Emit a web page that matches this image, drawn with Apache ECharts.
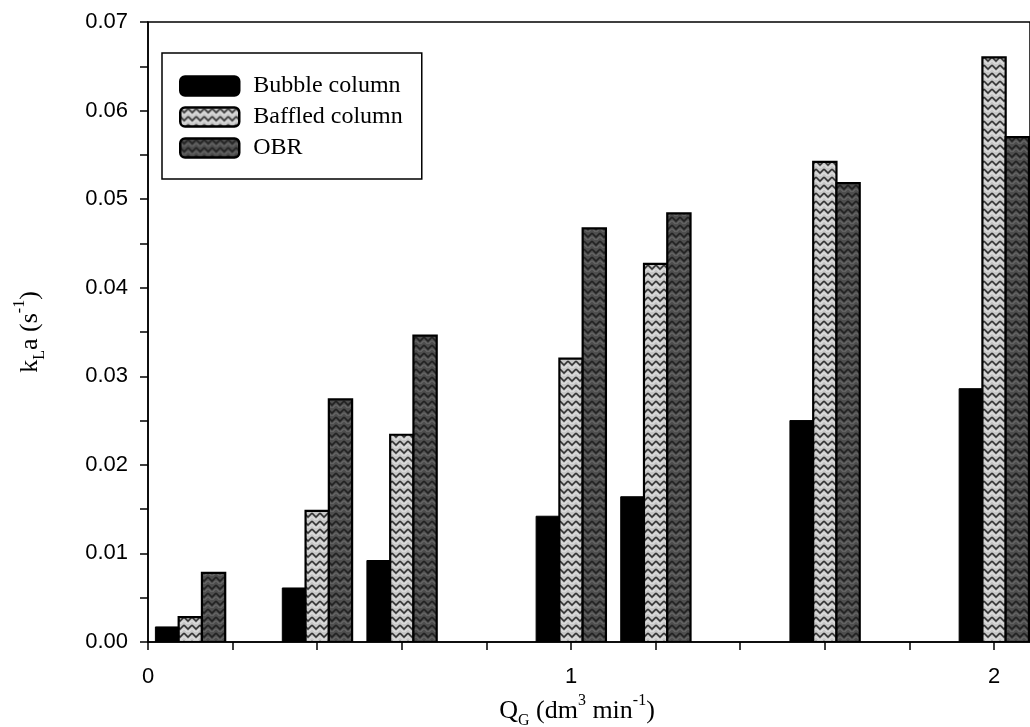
<!DOCTYPE html>
<html>
<head>
<meta charset="utf-8">
<title>kLa vs gas flow rate</title>
<script src="https://cdn.jsdelivr.net/npm/echarts@6/dist/echarts.min.js"></script>
<style>
  html, body { margin: 0; padding: 0; background: #fff; }
  #chart { width: 1030px; height: 727px; }
</style>
</head>
<body>
<div id="chart"></div>
<script>
// Gas flow rates (dm3/min) and measured kLa (1/s) for each reactor
const flowRates = [0.1, 0.4, 0.6, 1.0, 1.2, 1.6, 2.0];
const bubbleColumn = [0.0017, 0.0061, 0.0092, 0.0142, 0.0164, 0.0250, 0.0286];
const baffledColumn = [0.0028, 0.0148, 0.0234, 0.0320, 0.0427, 0.0542, 0.0660];
const obr = [0.0078, 0.0274, 0.0346, 0.0467, 0.0484, 0.0518, 0.0570];
const seriesNames = ['Bubble column', 'Baffled column', 'OBR'];
const xLabels = { 0: '0', 1: '1', 2: '2' };

const BAR_W = 0.055; // bar width in axis units

// chevron texture tile
function chevronPattern(bg, line, light) {
  const c = document.createElement('canvas');
  c.width = 8; c.height = 8;
  const g = c.getContext('2d');
  g.fillStyle = bg;
  g.fillRect(0, 0, 8, 8);
  g.lineWidth = 1.6;
  g.strokeStyle = line;
  g.beginPath();
  g.moveTo(0, 1); g.lineTo(4, 5); g.lineTo(8, 1);
  g.stroke();
  g.strokeStyle = light;
  g.lineWidth = 1;
  g.beginPath();
  g.moveTo(0, 4.5); g.lineTo(4, 8.5); g.lineTo(8, 4.5);
  g.stroke();
  return { image: c, repeat: 'repeat' };
}

const fills = [
  '#000000',
  chevronPattern('#c8c8c8', '#333333', '#ececec'),
  chevronPattern('#4e4e4e', '#222222', '#777777')
];
const borders = [1, 2.2, 2.2];
const valueSets = [bubbleColumn, baffledColumn, obr];

function makeSeries(idx) {
  const offset = (idx - 1) * BAR_W;
  return {
    name: seriesNames[idx],
    type: 'custom',
    clip: true,
    itemStyle: { color: fills[idx], borderColor: '#000', borderWidth: borders[idx] },
    data: flowRates.map((q, i) => [q, valueSets[idx][i]]),
    renderItem: function (params, api) {
      const xc = api.value(0) + offset;
      const top = api.coord([xc, api.value(1)]);
      const base = api.coord([xc, 0]);
      const w = api.size([BAR_W, 0])[0];
      return {
        type: 'rect',
        shape: { x: top[0] - w / 2, y: top[1], width: w, height: base[1] - top[1] },
        style: { fill: fills[idx], stroke: '#000', lineWidth: borders[idx] }
      };
    }
  };
}

const chart = echarts.init(document.getElementById('chart'), null, { renderer: 'canvas' });

const serif = 'Liberation Serif';
const sans = 'Liberation Sans';
const nameRich = {
  b: { fontFamily: serif, fontSize: 26, color: '#000', lineHeight: 36 },
  sub: { fontFamily: serif, fontSize: 16, color: '#000', lineHeight: 16, verticalAlign: 'bottom' },
  sup: { fontFamily: serif, fontSize: 16, color: '#000', lineHeight: 16, verticalAlign: 'top' }
};

chart.setOption({
  animation: false,
  backgroundColor: '#fff',
  grid: {
    left: 148, top: 22, right: 0, height: 620,
    outerBoundsMode: 'none',
    containLabel: false,
    show: true, borderColor: '#000', borderWidth: 1.5, backgroundColor: 'transparent'
  },
  legend: {
    left: 162, top: 53,
    orient: 'vertical',
    backgroundColor: '#fff',
    borderColor: '#000',
    borderWidth: 1.5,
    borderRadius: 0,
    padding: [21, 19, 19, 17],
    itemWidth: 59,
    itemHeight: 19,
    itemGap: 7,
    icon: 'roundRect',
    textStyle: { fontFamily: serif, fontSize: 24, color: '#000', padding: [0, 0, 0, 9] },
    data: seriesNames.map((n, i) => ({
      name: n,
      itemStyle: { color: fills[i], borderColor: '#000', borderWidth: 2.5 }
    }))
  },
  xAxis: {
    type: 'value',
    min: 0, max: 2.085, interval: 0.2,
    name: '{b|Q}{sub|G}{b| (dm}{sup|3}{b| min}{sup|-1}{b|)}',
    nameLocation: 'middle',
    nameGap: 45,
    nameTextStyle: { rich: nameRich, padding: [0, 24, 0, 0] },
    axisLine: { onZero: false, lineStyle: { color: '#000', width: 1.5 } },
    axisTick: { inside: false, length: 8, lineStyle: { color: '#000', width: 1.5 } },
    splitLine: { show: false },
    axisLabel: {
      margin: 24,
      fontFamily: sans, fontSize: 22, color: '#000',
      showMaxLabel: false,
      formatter: function (v) {
        const r = Math.round(v * 10) / 10;
        return xLabels[r] !== undefined && Math.abs(r - Math.round(r)) < 1e-9 ? xLabels[r] : '';
      }
    }
  },
  yAxis: {
    type: 'value',
    min: 0, max: 0.07, interval: 0.005,
    name: '{b|k}{sub|L}{b|a (s}{sup|-1}{b|)}',
    nameLocation: 'middle',
    nameGap: 100,
    nameRotate: 90,
    nameTextStyle: { rich: nameRich },
    axisLine: { lineStyle: { color: '#000', width: 1.5 } },
    axisTick: { inside: false, length: 8, lineStyle: { color: '#000', width: 1.5 } },
    splitLine: { show: false },
    axisLabel: {
      margin: 20,
      fontFamily: sans, fontSize: 22, color: '#000',
      formatter: function (v) {
        const k = Math.round(v * 1000);
        return k % 10 === 0 ? v.toFixed(2) : '';
      }
    }
  },
  series: [makeSeries(0), makeSeries(1), makeSeries(2)]
});
</script>
</body>
</html>
